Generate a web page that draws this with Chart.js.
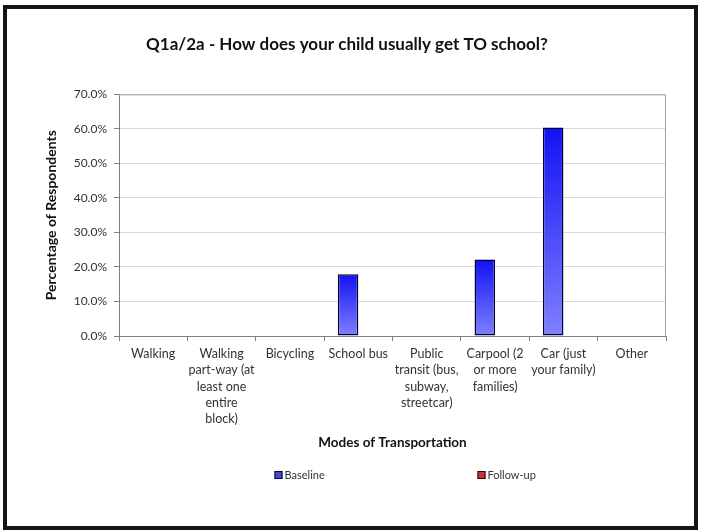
<!DOCTYPE html>
<html>
<head>
<meta charset="utf-8">
<title>Q1a/2a - How does your child usually get TO school?</title>
<script src="https://cdn.jsdelivr.net/npm/chart.js@4/dist/chart.umd.min.js"></script>
<style>
    body { margin: 0; background: #fff; overflow: hidden; }
    #wrap { position: relative; width: 701px; height: 531px; }
    #frame {
        position: absolute; left: 3px; top: 5px; width: 695px; height: 525px;
        box-sizing: border-box; border: 4px solid #141414; pointer-events: none;
    }
</style>
</head>
<body>
<div id="wrap">
    <canvas id="modes"></canvas>
    <div id="frame"></div>
</div>
<script>
/* data */

const categories = [
    "Walking",
    ["Walking", "part-way (at", "least one", "entire", "block)"],
    "Bicycling",
    "School bus",
    ["Public", "transit (bus,", "subway,", "streetcar)"],
    ["Carpool (2", "or more", "families)"],
    ["Car (just", "your family)"],
    "Other"
];
const baseline = [0, 0, 0, 17.9, 0, 22.2, 60.4, 0];
const followUp = [0, 0, 0, 0, 0, 0, 0, 0];
const yTicks = [0, 10, 20, 30, 40, 50, 60, 70];

const FONT = "Lato, 'Liberation Sans', sans-serif";

/* per-bar vertical gradient, like the old Excel fill */
function barFill(top, bottom, flat) {
    return function (ctx) {
        if (ctx.type !== 'data') return flat;
        const chart = ctx.chart;
        if (!chart.chartArea) return flat;
        const y = chart.scales.y;
        const y0 = y.getPixelForValue(ctx.parsed.y);
        const y1 = y.getPixelForValue(0);
        if (Math.abs(y1 - y0) < 1) return flat;
        const g = chart.ctx.createLinearGradient(0, y0, 0, y1);
        g.addColorStop(0, top);
        g.addColorStop(1, bottom);
        return g;
    };
}

/* grey frame around the plot area */
const plotFrame = {
    id: 'plotFrame',
    beforeDatasetsDraw(chart) {
        const a = chart.chartArea, c = chart.ctx;
        c.save();
        c.strokeStyle = '#a0a0a0';
        c.lineWidth = 1;
        c.beginPath();
        c.moveTo(a.left, a.top + 0.5);
        c.lineTo(a.right - 0.5, a.top + 0.5);
        c.lineTo(a.right - 0.5, a.bottom);
        c.stroke();
        c.restore();
    }
};

/* legend spread wide under the axis title, as in the original */
const wideLegend = {
    id: 'wideLegend',
    afterDraw(chart) {
        const c = chart.ctx, a = chart.chartArea;
        const mid = (a.left + a.right) / 2;
        c.save();
        c.font = "11px " + FONT;
        c.textBaseline = 'middle';
        c.textAlign = 'left';
        chart.data.datasets.forEach(function (ds, i) {
            const x = mid - 118 + i * 203;
            const y = 475;
            c.fillStyle = ds.legendColor;
            c.fillRect(x, y - 4, 8, 8);
            c.strokeStyle = ds.borderColor;
            c.lineWidth = 1;
            c.strokeRect(x + 0.5, y - 3.5, 7, 7);
            c.fillStyle = '#333';
            c.fillText(ds.label, x + 10, y);
        });
        c.restore();
    }
};

const ctx = document.getElementById('modes').getContext('2d');
const chart = new Chart(ctx, {
    type: 'bar',
    data: {
        labels: categories,
        datasets: [{
            label: 'Baseline',
            data: baseline,
            backgroundColor: barFill('#1212f5', '#8080ff', '#4646d8'),
            legendColor: '#4646d0',
            borderColor: '#000030',
            borderWidth: 1.5,
            borderSkipped: false
        }, {
            label: 'Follow-up',
            data: followUp,
            backgroundColor: barFill('#a00000', '#e07070', '#c03838'),
            legendColor: '#c03838',
            borderColor: '#300000',
            borderWidth: 1.5,
            borderSkipped: false
        }]
    },
    options: {
        responsive: true,
        maintainAspectRatio: false,
        animation: false,
        categoryPercentage: 0.6,
        barPercentage: 1.0,
        layout: { padding: { top: 34, right: 35, left: 28, bottom: 0 } },
        plugins: {
            legend: { display: false },
            tooltip: { enabled: false },
            title: {
                display: true,
                text: 'Q1a/2a - How does your child usually get TO school?',
                color: '#111',
                font: { family: FONT, size: 17, weight: 'bold' },
                padding: { top: 0, bottom: 40 }
            }
        },
        scales: {
            x: {
                afterFit: function (s) { s.height = 195; },
                grid: {
                    drawOnChartArea: false,
                    tickLength: 5,
                    tickColor: '#808080'
                },
                border: { color: '#808080', width: 1 },
                ticks: {
                    color: '#333',
                    padding: 5,
                    maxRotation: 0,
                    autoSkip: false,
                    font: { family: FONT, size: 12.5, lineHeight: 1.3 }
                },
                title: {
                    display: true,
                    text: 'Modes of Transportation',
                    color: '#111',
                    font: { family: FONT, size: 13.5, weight: 'bold' },
                    padding: { top: 0, bottom: 80 }
                }
            },
            y: {
                min: 0,
                max: 70,
                afterFit: function (s) { s.width = 91; },
                afterBuildTicks: function (s) {
                    s.ticks = yTicks.map(function (v) { return { value: v }; });
                },
                grid: {
                    color: '#d9d9d9',
                    tickLength: 5,
                    tickColor: '#808080'
                },
                border: { color: '#808080', width: 1 },
                ticks: {
                    color: '#333',
                    padding: 7,
                    font: { family: FONT, size: 12 },
                    callback: function (v) { return v.toFixed(1) + '%'; }
                },
                title: {
                    display: true,
                    text: 'Percentage of Respondents',
                    color: '#111',
                    font: { family: FONT, size: 14, weight: 'bold' },
                    padding: { top: 15, bottom: 0 }
                }
            }
        }
    },
    plugins: [plotFrame, wideLegend]
});
</script>
</body>
</html>
